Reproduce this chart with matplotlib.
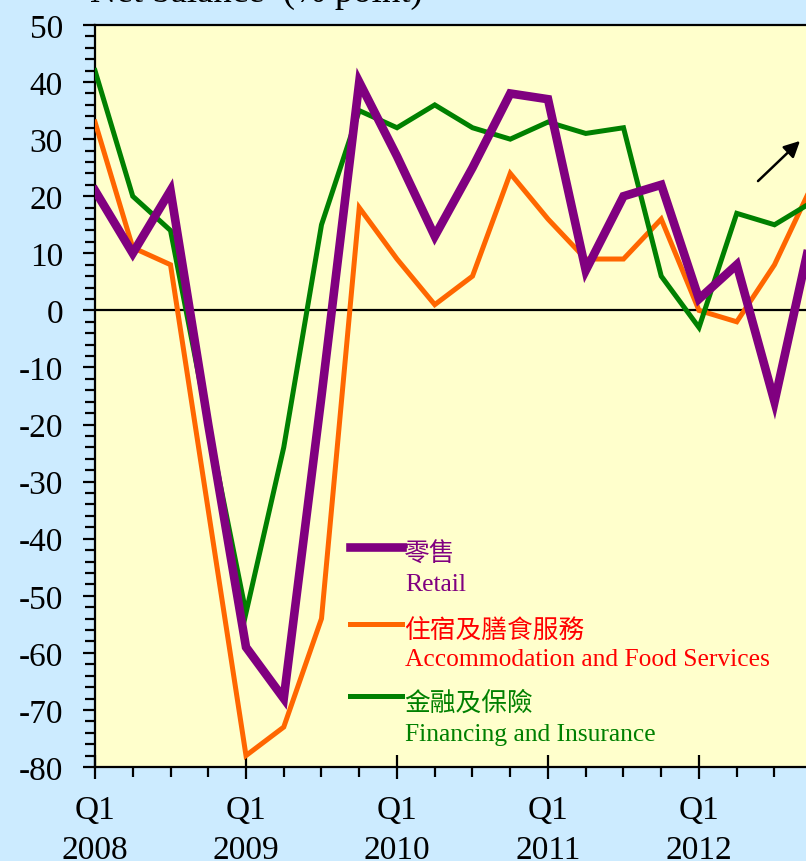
import matplotlib
matplotlib.use("Agg")
import matplotlib.pyplot as plt
from matplotlib.ticker import MultipleLocator, FixedLocator

plt.rcParams["axes.unicode_minus"] = False

# ---- data (quarterly, Q1 2008 .. Q4 2012) ----
quarters = list(range(20))
year_labels = ["Q1\n2008", "Q1\n2009", "Q1\n2010", "Q1\n2011", "Q1\n2012"]
year_ticks = [0, 4, 8, 12, 16]

retail = [21, 10, 21, -20, -59, -68, -15, 40, 27, 13, 25, 38, 37, 7, 20, 22, 2, 8, -16, 14]
accommodation = [33, 11, 8, -35, -78, -73, -54, 18, 9, 1, 6, 24, 16, 9, 9, 16, 0, -2, 8, 22]
financing = [42, 20, 14, -20, -53, -24, 15, 35, 32, 36, 32, 30, 33, 31, 32, 6, -3, 17, 15, 19]

names_zh = ["零售", "住宿及膳食服務", "金融及保險"]
names_en = ["Retail", "Accommodation and Food Services", "Financing and Insurance"]

W, H = 806, 862
fig = plt.figure(figsize=(W / 100, H / 100), dpi=100)
fig.patch.set_facecolor("#CCEBFF")

def fx(px):
    return px / W

def fy(py):
    return 1 - py / H

ax = fig.add_axes([fx(95), fy(768), fx(806) - fx(95), fy(26) - fy(768)])
ax.set_facecolor("#FFFFCC")

purple = "#800080"
orange = "#FF6600"
green = "#008000"

ax.axhline(0, color="black", lw=1.6, zorder=1)
ax.plot(quarters, accommodation, color=orange, lw=3.6, zorder=3, solid_joinstyle="miter")
ax.plot(quarters, financing, color=green, lw=3.6, zorder=3, solid_joinstyle="miter")
ax.plot(quarters, retail, color=purple, lw=6.2, zorder=4, solid_joinstyle="miter")

ax.set_xlim(0, 711 / 37.75)
ax.set_ylim(-80, 50)

serif = ["Liberation Serif", "DejaVu Serif"]

ax.yaxis.set_major_locator(MultipleLocator(10))
ax.yaxis.set_minor_locator(MultipleLocator(2))
ax.xaxis.set_major_locator(FixedLocator(year_ticks))
ax.xaxis.set_minor_locator(FixedLocator(quarters))
ax.set_xticklabels(year_labels, fontfamily=serif, fontsize=24, linespacing=1.42)
for lbl in ax.get_yticklabels():
    lbl.set_fontfamily(serif)
    lbl.set_fontsize(24)

ax.tick_params(axis="y", which="major", direction="out", length=9, width=1.6, pad=14)
ax.tick_params(axis="y", which="minor", direction="out", length=7, width=1.6)
ax.tick_params(axis="x", which="major", direction="inout", length=17, width=1.6, pad=11)
ax.tick_params(axis="x", which="minor", direction="out", length=7, width=1.6)

for s in ["left", "top", "bottom"]:
    ax.spines[s].set_linewidth(1.6)
ax.spines["right"].set_visible(False)

# title (partly cut off at the top, as in the original)
fig.text(fx(90), fy(2), "Net balance  (% point)", fontfamily=serif, fontsize=26.5,
         ha="left", va="baseline")

# legend (custom)
cjk = ["Noto Sans CJK TC", "DejaVu Sans"]
leg = [
    (548, 585, purple, purple, 6.2),
    (625, 660, orange, "#FF0000", 3.6),
    (697, 735, green, green, 3.6),
]
for i, (yz, ye, lc, tc, lw) in enumerate(leg):
    fig.add_artist(plt.Line2D([fx(350), fx(402)], [fy(yz), fy(yz)], color=lc, lw=lw,
                              transform=fig.transFigure))
    fig.text(fx(404), fy(yz + 7), names_zh[i], fontfamily=cjk, fontsize=18.5, color=tc,
             ha="left", va="center")
    fig.text(fx(405), fy(ye), names_en[i], fontfamily=serif, fontsize=18.4, color=tc,
             ha="left", va="center")

# arrow
ax.annotate("", xy=(fx(802), fy(140)), xycoords="figure fraction",
            xytext=(fx(756), fy(184)), textcoords="figure fraction",
            arrowprops=dict(arrowstyle="-|>", color="black", lw=1.8, mutation_scale=24))

fig.savefig("out.png", dpi=100, facecolor=fig.get_facecolor())
